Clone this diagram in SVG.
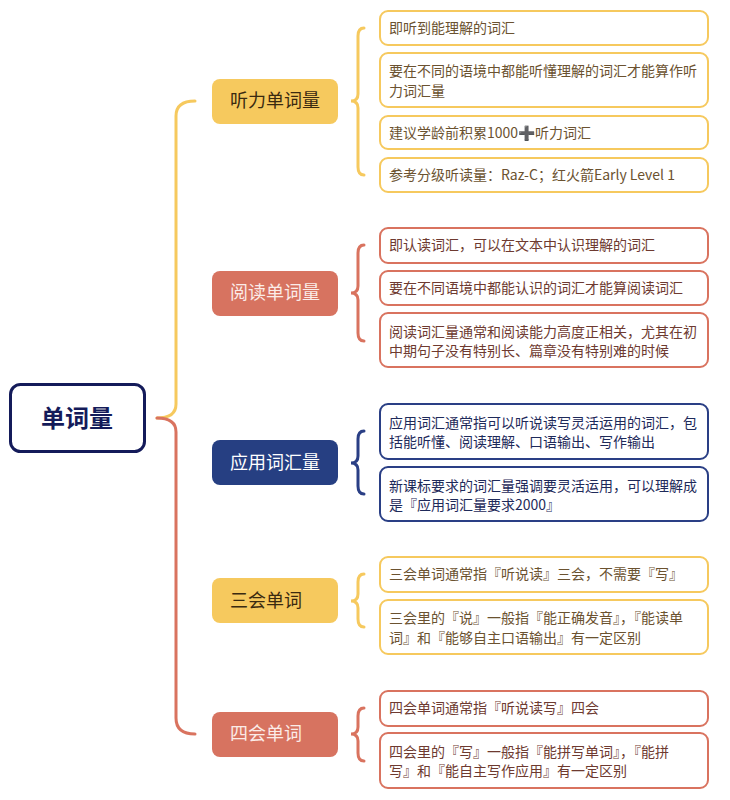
<svg xmlns="http://www.w3.org/2000/svg" width="730" height="800" viewBox="0 0 730 800">
<style>
text{font-family:"Noto Sans CJK SC","Noto Sans",sans-serif;}
.leaf{font-size:14px;}
.br{font-size:18px;}
.y{fill:#fff;stroke:#f6c95e;stroke-width:2;}
.r{fill:#fff;stroke:#d9735f;stroke-width:2;}
.n{fill:#fff;stroke:#2a3f85;stroke-width:2;}
.ty{fill:#6b5230;}
.tr{fill:#6e3a30;}
.tn{fill:#1e2a5a;}
.cy{fill:none;stroke:#f6c95e;stroke-width:3;stroke-linecap:round;}
.cr{fill:none;stroke:#d9735f;stroke-width:3;stroke-linecap:round;}
.cn{fill:none;stroke:#2a3f85;stroke-width:3;stroke-linecap:round;}
</style>
<rect width="730" height="800" fill="#fff"/>
<g id="connectors">
<path class="cy" d="M157,418 Q176,418 176,404 L176,116 Q176,101 195,101"/>
<path class="cr" d="M157,418 Q176,418 176,432 L176,718 Q176,734 195,734"/>
<path class="cy" d="M364,28 Q358,28 358,36 L358,94 Q358,101 351,101 Q358,101 358,108 L358,167 Q358,175 364,175"/>
<path class="cr" d="M364,245 Q358,245 358,253 L358,286 Q358,293 351,293 Q358,293 358,300 L358,333 Q358,341 364,341"/>
<path class="cn" d="M364,431 Q358,431 358,439 L358,456 Q358,463 351,463 Q358,463 358,470 L358,486 Q358,494 364,494"/>
<path class="cy" d="M364,574 Q358,574 358,582 L358,594 Q358,601 351,601 Q358,601 358,608 L358,619 Q358,627 364,627"/>
<path class="cr" d="M364,708 Q358,708 358,716 L358,727 Q358,734 351,734 Q358,734 358,741 L358,753 Q358,761 364,761"/>
</g>
<g id="root">
<rect x="10.5" y="384.5" width="134" height="67" rx="10" fill="#fff" stroke="#141b5a" stroke-width="3"/>
<text x="77" y="427" font-size="24" font-weight="bold" fill="#141b5a" text-anchor="middle">单词量</text>
</g>
<g id="b1">
<rect x="212" y="79" width="126" height="45" rx="8" fill="#f6c95e"/>
<text class="br" x="230" y="107" fill="#3a2a10">听力单词量</text>
</g>
<g id="b2">
<rect x="212" y="271" width="126" height="45" rx="8" fill="#d77360"/>
<text class="br" x="230" y="299" fill="#fbece8">阅读单词量</text>
</g>
<g id="b3">
<rect x="212" y="440" width="126" height="45" rx="8" fill="#263f82"/>
<text class="br" x="230" y="469" fill="#ffffff">应用词汇量</text>
</g>
<g id="b4">
<rect x="212" y="578" width="126" height="45" rx="8" fill="#f6c95e"/>
<text class="br" x="230" y="607" fill="#3a2a10">三会单词</text>
</g>
<g id="b5">
<rect x="212" y="712" width="126" height="45" rx="8" fill="#d77360"/>
<text class="br" x="230" y="740" fill="#fbece8">四会单词</text>
</g>
<g id="l1"><rect class="y" x="380" y="11" width="328" height="34" rx="8"/><text class="leaf ty" x="389" y="33">即听到能理解的词汇</text></g>
<g id="l2"><rect class="y" x="380" y="53" width="328" height="54" rx="8"/><text class="leaf ty" x="389" y="76">要在不同的语境中都能听懂理解的词汇才能算作听</text><text class="leaf ty" x="389" y="96">力词汇量</text></g>
<g id="l3"><rect class="y" x="380" y="116" width="328" height="33" rx="8"/><text class="leaf ty" x="389" y="138">建议学龄前积累1000<tspan fill="#444" font-family="DejaVu Sans">➕</tspan>听力词汇</text></g>
<g id="l4"><rect class="y" x="380" y="158" width="328" height="34" rx="8"/><text class="leaf ty" x="389" y="180">参考分级听读量：Raz-C；红火箭Early Level 1</text></g>
<g id="l5"><rect class="r" x="380" y="228" width="328" height="35" rx="8"/><text class="leaf tr" x="389" y="250">即认读词汇，可以在文本中认识理解的词汇</text></g>
<g id="l6"><rect class="r" x="380" y="271" width="328" height="34" rx="8"/><text class="leaf tr" x="389" y="293">要在不同语境中都能认识的词汇才能算阅读词汇</text></g>
<g id="l7"><rect class="r" x="380" y="313" width="328" height="54" rx="8"/><text class="leaf tr" x="389" y="337">阅读词汇量通常和阅读能力高度正相关，尤其在初</text><text class="leaf tr" x="389" y="356">中期句子没有特别长、篇章没有特别难的时候</text></g>
<g id="l8"><rect class="n" x="380" y="404" width="328" height="55" rx="8"/><text class="leaf tn" x="389" y="428">应用词汇通常指可以听说读写灵活运用的词汇，包</text><text class="leaf tn" x="389" y="447">括能听懂、阅读理解、口语输出、写作输出</text></g>
<g id="l9"><rect class="n" x="380" y="467" width="328" height="54" rx="8"/><text class="leaf tn" x="389" y="491">新课标要求的词汇量强调要灵活运用，可以理解成</text><text class="leaf tn" x="389" y="510">是『应用词汇量要求2000』</text></g>
<g id="l10"><rect class="y" x="380" y="557" width="328" height="35" rx="8"/><text class="leaf ty" x="389" y="579">三会单词通常指『听说读』三会，不需要『写』</text></g>
<g id="l11"><rect class="y" x="380" y="600" width="328" height="54" rx="8"/><text class="leaf ty" x="389" y="623">三会里的『说』一般指『能正确发音』，『能读单</text><text class="leaf ty" x="389" y="643">词』和『能够自主口语输出』有一定区别</text></g>
<g id="l12"><rect class="r" x="380" y="691" width="328" height="35" rx="8"/><text class="leaf tr" x="389" y="713">四会单词通常指『听说读写』四会</text></g>
<g id="l13"><rect class="r" x="380" y="733" width="328" height="55" rx="8"/><text class="leaf tr" x="389" y="757">四会里的『写』一般指『能拼写单词』，『能拼</text><text class="leaf tr" x="389" y="776">写』和『能自主写作应用』有一定区别</text></g>
</svg>
